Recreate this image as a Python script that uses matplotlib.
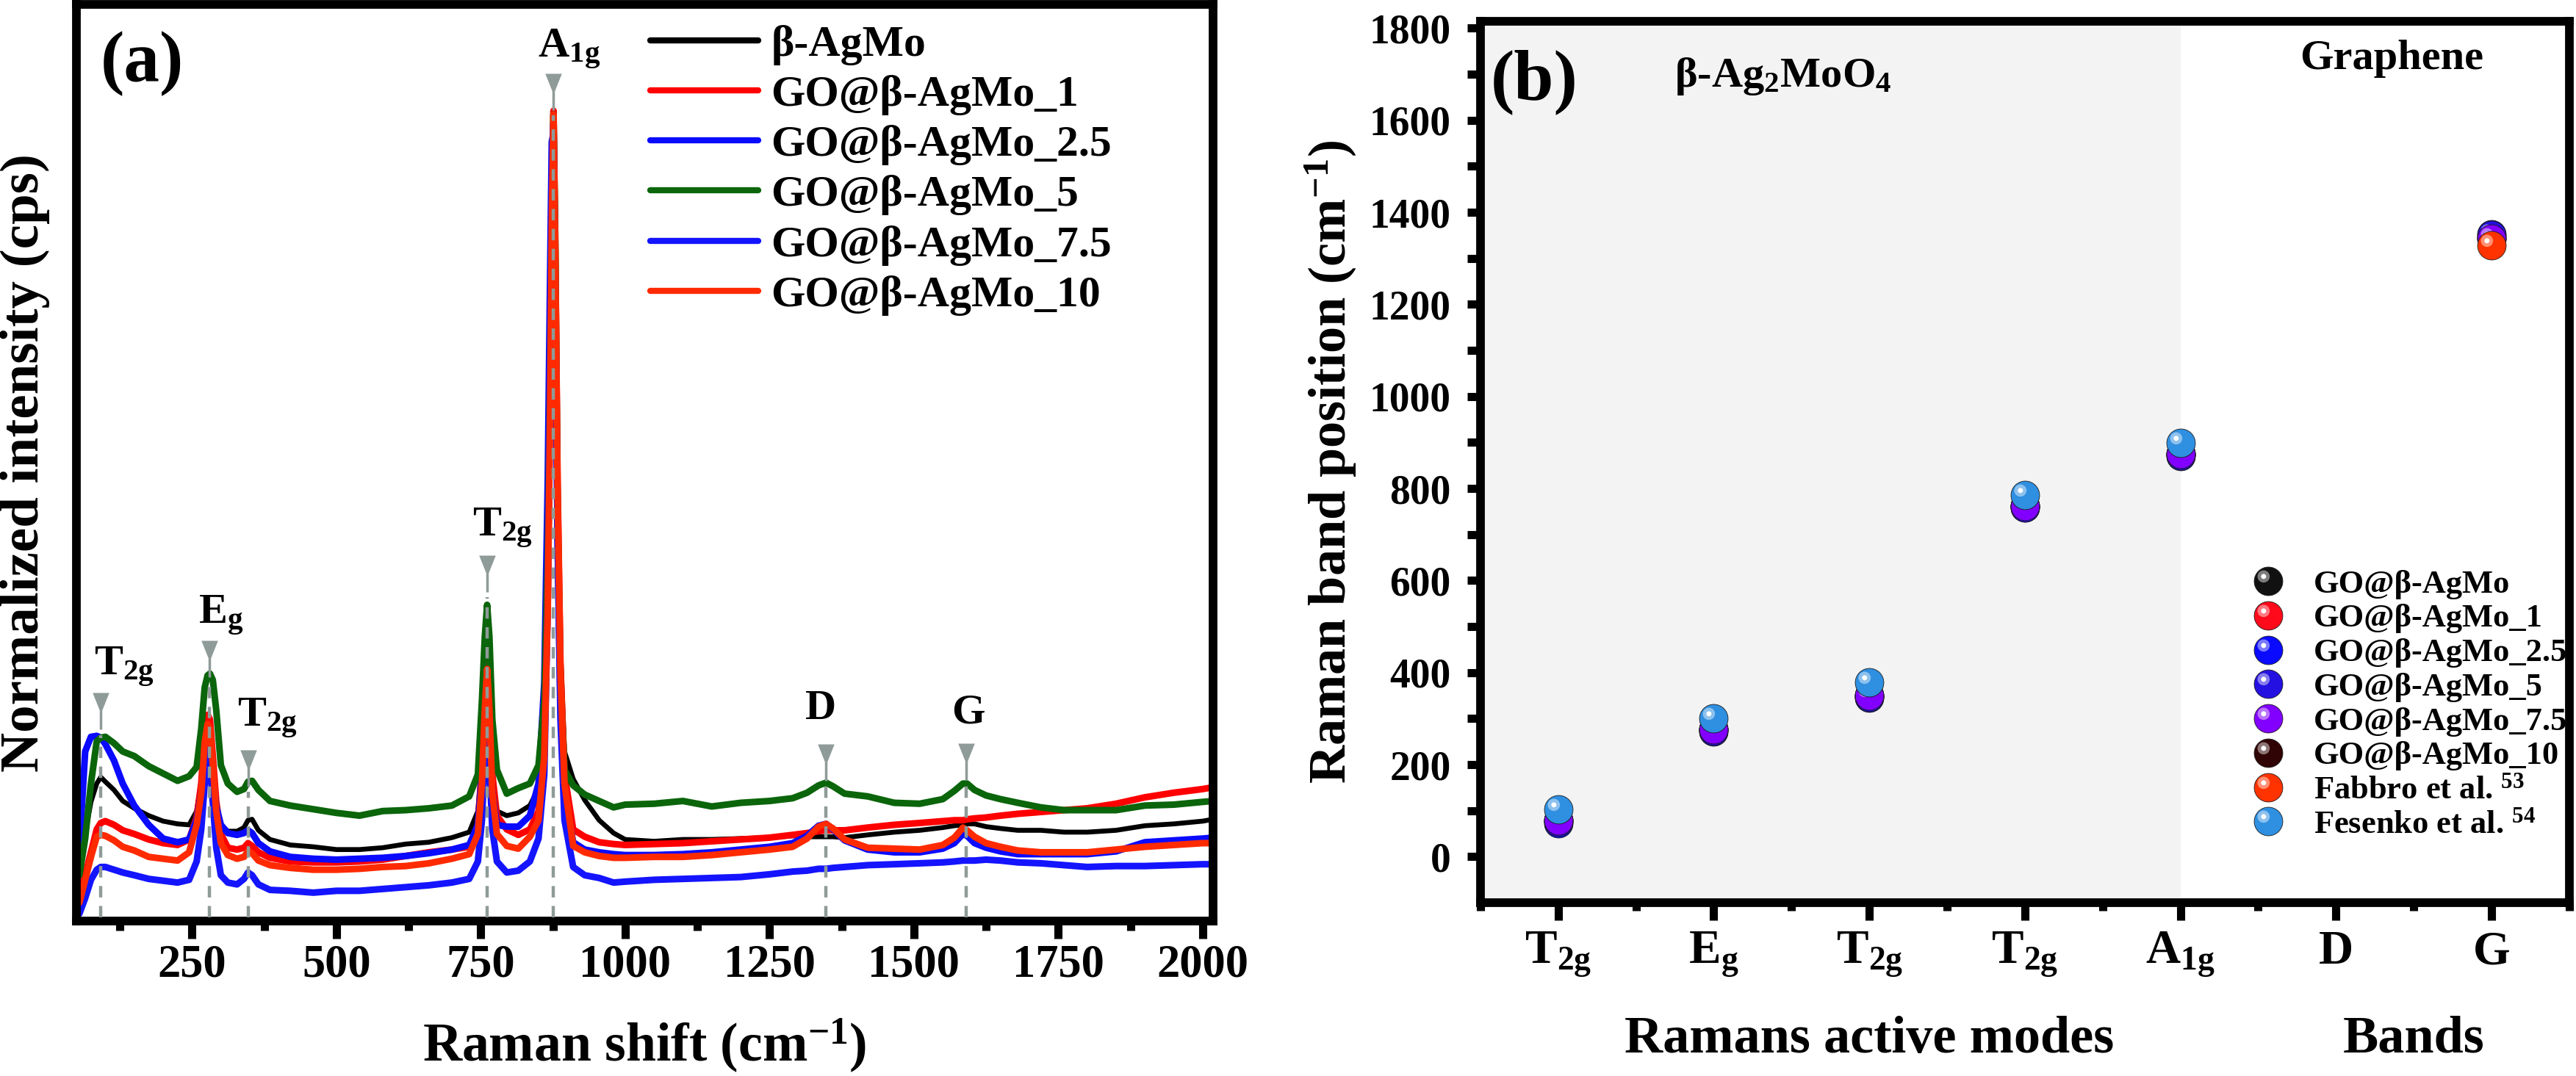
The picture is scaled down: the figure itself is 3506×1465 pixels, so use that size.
import matplotlib.pyplot as plt
from matplotlib.markers import MarkerStyle
from matplotlib.transforms import Affine2D, blended_transform_factory
from matplotlib.legend_handler import HandlerTuple
from matplotlib.colors import to_rgb
import numpy as np

plt.rcParams['font.family'] = ['Liberation Serif', 'DejaVu Serif']
plt.rcParams['font.weight'] = 'bold'
plt.rcParams['axes.labelweight'] = 'bold'
plt.rcParams['mathtext.fontset'] = 'custom'
plt.rcParams['mathtext.rm'] = 'Liberation Serif:bold'
plt.rcParams['mathtext.it'] = 'Liberation Serif:bold'
plt.rcParams['mathtext.bf'] = 'Liberation Serif:bold'
plt.rcParams['mathtext.default'] = 'rm'

# ---------------- (a) Raman spectra ----------------
shift = [55, 65, 75, 85, 92, 100, 115, 130, 150, 175,
         200, 225, 245, 258, 266, 272, 277, 281, 286, 292,
         300, 312, 328, 340, 347, 354, 365, 385, 420, 460,
         500, 540, 580, 620, 660, 700, 730, 745, 752, 757,
         761, 765, 770, 778, 795, 815, 835, 850, 860, 866,
         870, 873, 876, 879, 883, 888, 895, 910, 930, 955,
         980, 1000, 1050, 1100, 1150, 1200, 1250, 1290, 1315, 1335,
         1348, 1360, 1380, 1420, 1466, 1510, 1550, 1570, 1585, 1592,
         1605, 1625, 1650, 1680, 1720, 1760, 1800, 1850, 1900, 1950,
         2000, 2018]

ag_mo = [5.0, 9.5, 13.0, 15.0, 15.7, 15.2, 14.3, 13.1, 12.3, 11.5,
         10.9, 10.6, 10.5, 12.0, 15.0, 19.0, 20.5, 20.0, 16.5, 12.5,
         10.5, 9.8, 9.8, 10.2, 11.0, 11.1, 9.9, 8.9, 8.3, 8.1,
         7.8, 7.8, 8.0, 8.4, 8.6, 9.1, 9.7, 12.0, 17.0, 23.0,
         26.0, 22.0, 15.0, 12.0, 11.5, 11.8, 12.6, 14.5, 22.0, 38.0,
         58.0, 77.0, 87.5, 75.0, 50.0, 30.0, 18.5, 15.5, 13.2, 11.0,
         9.6, 8.9, 8.7, 8.9, 8.9, 9.0, 9.1, 9.3, 9.2, 9.2,
         9.2, 9.2, 9.1, 9.4, 9.7, 9.9, 10.2, 10.4, 10.5, 10.6,
         10.6, 10.3, 10.1, 9.9, 9.9, 9.7, 9.7, 9.9, 10.4, 10.6,
         10.9, 11.1]

go_1 = [2.5, 5.0, 7.5, 10.0, 10.7, 10.9, 10.5, 9.9, 9.5, 8.9,
        8.5, 8.3, 8.9, 11.3, 15.0, 20.5, 22.5, 22.0, 18.0, 13.0,
        9.5, 8.0, 7.8, 8.0, 8.5, 8.2, 7.5, 6.9, 6.5, 6.4,
        6.4, 6.5, 6.7, 7.1, 7.5, 7.8, 8.1, 10.5, 17.0, 25.0,
        28.6, 25.0, 16.0, 11.5, 10.0, 9.4, 10.0, 12.0, 19.0, 35.0,
        56.0, 77.0, 88.4, 74.0, 48.0, 28.0, 16.0, 10.0, 9.2, 8.6,
        8.4, 8.3, 8.4, 8.5, 8.7, 8.9, 9.1, 9.4, 9.6, 9.8,
        9.9, 9.9, 9.9, 10.2, 10.5, 10.7, 10.9, 11.0, 11.0, 11.1,
        11.2, 11.3, 11.5, 11.7, 11.9, 12.1, 12.3, 12.8, 13.5, 14.0,
        14.4, 14.6]

go_25 = [8.0, 18.5, 20.1, 20.2, 20.0, 19.3, 17.5, 15.0, 12.6, 10.5,
         9.0, 8.6, 8.9, 11.0, 14.0, 18.0, 19.5, 19.0, 16.0, 12.5,
         10.5, 9.6, 9.4, 9.6, 9.9, 9.6, 8.5, 7.6, 7.0, 6.8,
         6.7, 6.8, 6.9, 7.1, 7.4, 7.8, 8.3, 10.5, 16.0, 22.0,
         25.0, 21.0, 14.0, 10.5, 10.3, 10.3, 11.5, 15.0, 26.0, 48.0,
         70.0, 85.0, 86.0, 68.0, 42.0, 24.0, 14.0, 8.6, 7.8, 7.5,
         7.3, 7.2, 7.2, 7.3, 7.5, 7.8, 8.1, 8.5, 9.3, 10.4,
         10.6, 10.0, 8.8, 7.8, 7.5, 7.5, 7.9, 8.5, 9.5, 9.3,
         8.5, 8.0, 7.6, 7.3, 7.3, 7.3, 7.3, 7.6, 8.6, 8.8,
         9.0, 9.1]

go_5 = [5.0, 9.0, 15.0, 19.6, 20.0, 20.1, 19.4, 18.5, 18.0, 16.9,
        16.1, 15.3, 15.8, 16.8, 21.0, 25.5, 26.8, 27.0, 26.3, 23.0,
        17.0, 15.0, 14.1, 14.4, 15.2, 15.3, 14.3, 13.1, 12.6, 12.2,
        11.8, 11.5, 12.0, 12.1, 12.3, 12.6, 13.6, 16.0, 24.0, 31.0,
        34.5, 31.0, 22.0, 16.5, 13.9, 14.5, 15.0, 17.0, 24.0, 40.0,
        60.0, 78.0, 88.0, 74.0, 45.0, 26.0, 16.5, 14.8, 13.8, 13.1,
        12.4, 12.7, 12.8, 13.1, 12.5, 12.9, 13.1, 13.4, 14.0, 14.8,
        15.1, 14.7, 13.9, 13.6, 12.9, 12.8, 13.3, 14.2, 15.0, 15.0,
        14.3, 13.7, 13.3, 12.9, 12.4, 12.1, 12.1, 12.1, 12.6, 12.7,
        13.0, 13.1]

go_75 = [0.8, 2.5, 4.5, 5.6, 5.9, 5.9, 5.6, 5.3, 5.0, 4.6,
         4.4, 4.2, 4.5, 6.5, 10.0, 15.0, 17.5, 17.0, 13.0, 8.0,
         5.0, 4.2, 4.0, 4.6, 5.3, 5.0, 4.0, 3.4, 3.3, 3.1,
         3.3, 3.3, 3.5, 3.7, 3.9, 4.2, 4.6, 6.5, 11.0, 18.0,
         21.0, 17.0, 10.0, 6.5, 5.3, 5.5, 6.5, 9.0, 16.0, 35.0,
         60.0, 82.0, 87.0, 70.0, 42.0, 22.0, 11.0, 5.9, 5.0, 4.7,
         4.2, 4.3, 4.5, 4.6, 4.7, 4.8, 5.1, 5.4, 5.5, 5.7,
         5.7, 5.8, 5.9, 6.1, 6.2, 6.3, 6.4, 6.5, 6.6, 6.6,
         6.6, 6.7, 6.6, 6.4, 6.3, 6.1, 5.9, 6.0, 6.0, 6.1,
         6.2, 6.2]

go_10 = [2.0, 4.5, 7.0, 9.2, 9.4, 9.3, 8.8, 8.1, 7.7, 7.0,
         6.8, 6.6, 7.5, 10.5, 14.0, 19.5, 21.5, 21.0, 17.0, 12.0,
         8.5, 7.2, 6.8, 7.0, 7.6, 7.4, 6.6, 6.1, 5.8, 5.6,
         5.6, 5.7, 5.9, 6.0, 6.3, 6.8, 7.3, 9.5, 15.0, 23.0,
         27.5, 23.0, 14.0, 9.5, 8.2, 7.9, 9.2, 11.0, 18.0, 34.0,
         55.0, 76.0, 88.0, 73.0, 47.0, 27.0, 15.0, 8.2, 7.5, 7.1,
         6.9, 6.9, 7.0, 7.0, 7.2, 7.5, 7.8, 8.1, 9.0, 10.3,
         10.6, 10.1, 8.9, 8.0, 7.9, 7.8, 8.3, 9.1, 10.2, 9.9,
         9.2, 8.5, 8.1, 7.7, 7.5, 7.5, 7.5, 7.8, 8.1, 8.3,
         8.5, 8.5]

spectra = [ag_mo, go_1, go_25, go_5, go_75, go_10]
spectrum_names = ['β-AgMo', 'GO@β-AgMo_1', 'GO@β-AgMo_2.5',
                  'GO@β-AgMo_5', 'GO@β-AgMo_7.5', 'GO@β-AgMo_10']
spectrum_colors = ['#000000', '#ff0000', '#0a0aff', '#0b650b', '#1414ff', '#ff2a00']

# assigned bands in (a)
band_pos = [92, 280, 347, 761, 876, 1348, 1591]
band_names = ['T$_{2g}$', 'E$_g$', 'T$_{2g}$', 'T$_{2g}$', 'A$_{1g}$', 'D', 'G']
band_mark = [22.9, 28.6, 16.7, 37.9, 90.5, 17.3, 17.4]

# ---------------- (b) band positions ----------------
modes = ['T$_{2g}$', 'E$_g$', 'T$_{2g}$', 'T$_{2g}$', 'A$_{1g}$', 'D', 'G']
nan = np.nan
pos_agmo = [78, 276, 350, 762, 875, nan, 1345]
pos_1 = [78, 276, 350, 762, 875, nan, 1345]
pos_25 = [73, 272, 346, 758, 871, nan, 1352]
pos_5 = [75, 273, 347, 759, 872, nan, 1350]
pos_75 = [79, 276, 350, 762, 875, nan, 1342]
pos_10 = [79, 276, 350, 762, 875, nan, 1342]
fabbro = [nan, nan, nan, nan, nan, nan, 1328]
fesenko = [102, 300, 378, 785, 899, nan, nan]

point_names = ['GO@β-AgMo', 'GO@β-AgMo_1', 'GO@β-AgMo_2.5', 'GO@β-AgMo_5',
               'GO@β-AgMo_7.5', 'GO@β-AgMo_10', 'Fabbro et al. $^{53}$',
               'Fesenko et al. $^{54}$']
point_values = [pos_agmo, pos_1, pos_25, pos_5, pos_75, pos_10, fabbro, fesenko]
point_colors = ['#111111', '#ff0a1a', '#0a0aff', '#2410e0', '#8200ff', '#300404',
                '#ff3300', '#2f8fe0']
draw_order = [0, 1, 5, 2, 3, 4, 6, 7]

fig = plt.figure(figsize=(35.06, 14.65), dpi=100)
ax1 = fig.add_axes([0.0297, 0.144, 0.4412, 0.8519])
ax2 = fig.add_axes([0.5747, 0.1611, 0.4227, 0.8191])
for ax in (ax1, ax2):
    for s in ax.spines.values():
        s.set_linewidth(8.5)

# ---- panel (a)
for ys, name, col in zip(spectra, spectrum_names, spectrum_colors):
    lw = 4.8 if col == '#000000' else 6.5
    ax1.plot(shift, ys, color=col, lw=lw, label=name,
             solid_joinstyle='round', solid_capstyle='round')

gray = '#8f9b98'
funnel = [(-0.45, 1), (0.45, 1), (0.07, 0.05), (0.07, -1),
          (-0.07, -1), (-0.07, 0.05)]
label_off = [(-11, 3.9, 'left'), (-19, 3.8, 'left'), (-18, 4.5, 'left'),
             (-25, 4.1, 'left'), (-27, 3.7, 'left'), (-9, 4.7, 'center'),
             (3, 4.2, 'center')]
for p, vm, nm, (dx, dv, ha) in zip(band_pos, band_mark, band_names, label_off):
    ax1.plot([p, p], [0.4, vm - 2.6], color=gray, lw=3.2, ls=(0, (3.5, 2.6)),
             zorder=5)
    ax1.plot(p, vm, marker=funnel, ms=36, color=gray, mec='none', zorder=6)
    ax1.text(p + dx, vm + dv, nm, fontsize=42, ha=ha, va='baseline')

ax1.set_xlim(50, 2018)
ax1.set_ylim(0, 100)
ax1.set_xticks([250, 500, 750, 1000, 1250, 1500, 1750, 2000])
ax1.set_xticks([125, 375, 625, 875, 1125, 1375, 1625, 1875], minor=True)
ax1.set_yticks([])
ax1.tick_params(axis='x', which='major', direction='out', length=17, width=8,
                labelsize=45, pad=6)
ax1.tick_params(axis='x', which='minor', direction='out', length=9, width=8)
ax1.set_xlabel('Raman shift (cm$^{-1}$)', fontsize=53, fontweight='bold')
ax1.xaxis.set_label_coords(0.5, -0.105)
ax1.set_ylabel('Normalized intensity (cps)', fontsize=54, fontweight='bold')
ax1.yaxis.set_label_coords(-0.0233, 0.5)
ax1.text(0.021, 0.971, '(a)', transform=ax1.transAxes, fontsize=70,
         ha='left', va='top')
leg1 = ax1.legend(loc='upper left', bbox_to_anchor=(0.505, 0.9776), frameon=False,
                  fontsize=43, handlelength=2.45, handletextpad=0.3,
                  labelspacing=0.22, borderpad=0, borderaxespad=0)
for ln in leg1.get_lines():
    ln.set_linewidth(6)

# ---- panel (b)
ax2.axvspan(0.5, 5, color='#f3f3f3', lw=0, zorder=0)
cats = np.arange(1, 8)


def lighter(c, f):
    r, g, b = to_rgb(c)
    return (r + (1 - r) * f, g + (1 - g) * f, b + (1 - b) * f)


shine = MarkerStyle('o', transform=Affine2D().translate(-0.4, 0.4))
spot = MarkerStyle('o', transform=Affine2D().translate(-0.96, 0.96))
handles = [None] * len(point_names)
for z, i in enumerate(draw_order):
    col = point_colors[i]
    vals = point_values[i]
    h0, = ax2.plot(cats, vals, ls='none', marker='o', ms=28, mfc=col,
                   mec='#1a1a1a', mew=0.6, zorder=3 + z)
    h1, = ax2.plot(cats, vals, ls='none', marker=shine, ms=12,
                   mfc=lighter(col, 0.45), mec='none', zorder=3 + z)
    h2, = ax2.plot(cats, vals, ls='none', marker=spot, ms=5,
                   mfc='white', mec='none', zorder=3 + z)
    handles[i] = (h0, h1, h2)

ax2.set_xlim(0.5, 7.5)
ax2.set_ylim(-100, 1815)
ax2.set_xticks(cats)
ax2.set_xticklabels(modes)
ax2.set_xticks(np.arange(0.5, 7.6, 1.0), minor=True)
ax2.set_yticks(np.arange(0, 1801, 200))
ax2.set_yticks(np.arange(100, 1800, 200), minor=True)
ax2.tick_params(axis='x', which='major', direction='out', length=17, width=8,
                labelsize=47, pad=10)
ax2.tick_params(axis='x', which='minor', direction='out', length=8, width=8)
ax2.tick_params(axis='y', which='both', direction='out', length=13, width=8,
                labelsize=40, pad=16)
ax2.set_ylabel('Raman band position (cm$^{-1}$)', fontsize=52, fontweight='bold')
ax2.yaxis.set_label_coords(-0.1127, 0.5)
mix = blended_transform_factory(ax2.transData, ax2.transAxes)
ax2.text(3, -0.17, 'Ramans active modes', transform=mix, fontsize=52,
         ha='center', va='baseline')
ax2.text(6.5, -0.17, 'Bands', transform=mix, fontsize=52,
         ha='center', va='baseline')
ax2.text(0.0095, 0.968, '(b)', transform=ax2.transAxes, fontsize=70,
         ha='left', va='top')
ax2.text(0.178, 0.926, 'β-Ag$_2$MoO$_4$', transform=ax2.transAxes, fontsize=42,
         ha='left', va='baseline')
ax2.text(0.837, 0.946, 'Graphene', transform=ax2.transAxes, fontsize=42,
         ha='center', va='baseline')
ax2.legend(handles, point_names, handler_map={tuple: HandlerTuple(ndivide=1, pad=0)},
           loc='upper left', bbox_to_anchor=(0.7085, 0.378), frameon=False,
           fontsize=32, handlelength=1.0, handletextpad=0.9, labelspacing=0.15,
           borderpad=0, borderaxespad=0)

fig.savefig('out.png', dpi=100)
